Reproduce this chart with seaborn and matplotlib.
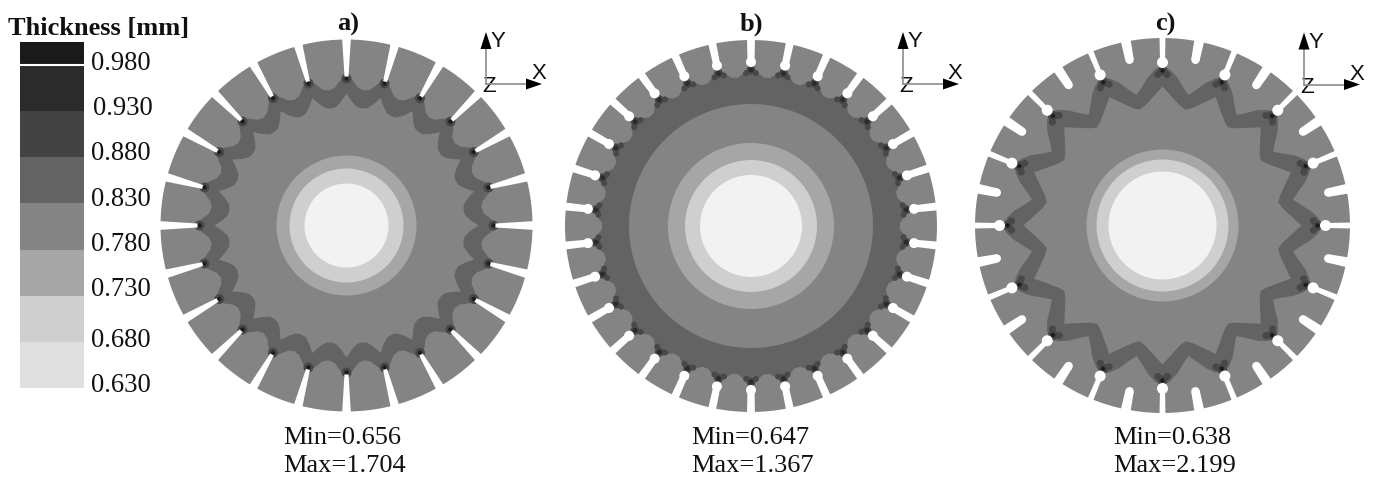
import numpy as np
import matplotlib
matplotlib.use('Agg')
import matplotlib.pyplot as plt
from matplotlib.colors import ListedColormap
import seaborn as sns

W, H = 1377, 481

# legend
legend_title = 'Thickness [mm]'
legend_labels = ['0.980', '0.930', '0.880', '0.830', '0.780', '0.730', '0.680', '0.630']
legend_label_y = [61, 107, 152, 197, 243, 288, 339, 384]
legend_greys = ['#e0e0e0', '#cfcfcf', '#a6a6a6', '#848484', '#636363', '#434343', '#2b2b2b', '#1a1a1a']
# one row per half block, top block is only half height
legend_rows = [7, 6, 6, 5, 5, 4, 4, 3, 3, 2, 2, 1, 1, 0, 0]

panel_names = ['a)', 'b)', 'c)']
panel_min = ['Min=0.656', 'Min=0.647', 'Min=0.638']
panel_max = ['Max=1.704', 'Max=1.367', 'Max=2.199']
text_left = [283, 691, 1113]
center_x = [346.5, 751, 1162.5]
center_y = [226.5, 227, 226.5]
disc_r = [186, 186, 187.5]
white_r = [42, 51, 54]
light_r = [57, 66, 66]
mid_r = [70, 83, 76]
slot_count = [24, 30, 32]

# band radii over one repeating period, from the slot tip round to the next one
band_period = [15, 12, 22.5]
band_outer_a = [151, 145, 138, 136, 138, 145]
band_inner_a = [132, 124, 119, 118, 119, 124]
band_outer_b = [160, 154, 149, 149, 154]
band_inner_b = [122, 122, 122, 122, 122]
band_outer_c = [160, 156, 149, 140, 133, 140, 149, 156]
band_inner_c = [139, 132, 126, 121, 118, 121, 126, 132]

sns.set_theme(style='white')
plt.rcParams['font.family'] = ['Liberation Serif', 'DejaVu Sans']

fig = plt.figure(figsize=(W / 100, H / 100), dpi=100)


def px_axes(x0, y0, x1, y1):
    return fig.add_axes([x0 / W, 1 - y1 / H, (x1 - x0) / W, (y1 - y0) / H])


def ftext(x, y, s, **kw):
    fig.text(x / W, 1 - (y + 2.5) / H, s, va='center', **kw)


def radial_poly(radii, period):
    n = int(round(360 / period))
    r = np.tile(radii, n)
    a = np.radians(90 + np.arange(len(r)) * period / len(radii))
    return r * np.cos(a), r * np.sin(a)


def slot(ax, ang, r0, r1, w0, w1, bulb=0):
    # tapered white slit from the rim r0 in to r1, optional round end
    t = np.radians(ang)
    ux, uy = np.cos(t), np.sin(t)
    px, py = -uy, ux
    xs = [r0 * ux + w0 / 2 * px, r1 * ux + w1 / 2 * px, r1 * ux - w1 / 2 * px, r0 * ux - w0 / 2 * px]
    ys = [r0 * uy + w0 / 2 * py, r1 * uy + w1 / 2 * py, r1 * uy - w1 / 2 * py, r0 * uy - w0 / 2 * py]
    ax.fill(xs, ys, color='white', lw=0, zorder=6)
    if bulb:
        ax.add_patch(plt.Circle((r1 * ux, r1 * uy), bulb, color='white', lw=0, zorder=6))


def spot(ax, ang, r, sizes):
    t = np.radians(ang)
    for s, c in zip(sizes, ['#484848', '#2b2b2b', '#1a1a1a']):
        ax.add_patch(plt.Circle((r * np.cos(t), r * np.sin(t)), s, color=c, lw=0, zorder=5))


def lobes(ax, ang, r, off, size):
    # darker patches either side of a slot tip
    for d in (-off, off):
        t = np.radians(ang + d)
        ax.add_patch(plt.Circle((r * np.cos(t), r * np.sin(t)), size, color='#484848', lw=0, zorder=5))


def triad(ax, ox, oy):
    ax.plot([ox, ox], [oy, oy + 42], color='#8c8c8c', lw=1.2, zorder=7)
    ax.plot([ox, ox + 40], [oy, oy], color='#8c8c8c', lw=1.2, zorder=7)
    ax.fill([ox - 5.5, ox + 5.5, ox], [oy + 35, oy + 35, oy + 52], color='black', lw=0, zorder=8)
    ax.fill([ox + 40, ox + 40, ox + 56], [oy + 5.5, oy - 5.5, oy], color='black', lw=0, zorder=8)
    ax.text(ox + 5, oy + 43, 'Y', family='Liberation Sans', fontsize=16, color='#111111', va='center', ha='left')
    ax.text(ox + 45, oy + 11, 'X', family='Liberation Sans', fontsize=16, color='#111111', va='center', ha='left')
    ax.text(ox + 3, oy - 2, 'Z', family='Liberation Sans', fontsize=16, color='#111111', va='center', ha='center')


# legend colour bar
ax = px_axes(20, 43, 84, 389)
sns.heatmap(np.array(legend_rows).reshape(-1, 1), cmap=ListedColormap(legend_greys), vmin=-0.5, vmax=7.5,
            cbar=False, xticklabels=False, yticklabels=False, ax=ax)
ax.axhline(1, color='white', lw=1.5)
ftext(8, 25.5, legend_title, fontsize=19, fontweight='bold', color='#111111')
for i, (lab, y) in enumerate(zip(legend_labels, legend_label_y)):
    ftext(93 if i == 1 else 91.5, y - 0.5, lab, fontsize=19.2, color='#111111')

bands = [(band_outer_a, band_inner_a), (band_outer_b, band_inner_b), (band_outer_c, band_inner_c)]
triad_pos = [(139.5, 141.5), (152, 142), (141.5, 141)]

for k in range(3):
    cx, cy = center_x[k], center_y[k]
    ax = px_axes(cx - 215, cy - 215, cx + 215, cy + 215)
    ax.patch.set_alpha(0)
    ax.set_xlim(-215, 215)
    ax.set_ylim(-215, 215)
    ax.axis('off')

    ax.add_patch(plt.Circle((0, 0), disc_r[k], color='#848484', lw=0, zorder=1))
    x, y = radial_poly(bands[k][0], band_period[k])
    ax.fill(x, y, color='#636363', lw=0, zorder=2)
    x, y = radial_poly(bands[k][1], band_period[k])
    ax.fill(x, y, color='#848484', lw=0, zorder=3)
    for r, c in zip([mid_r[k], light_r[k], white_r[k]], ['#a6a6a6', '#cfcfcf', '#f2f2f2']):
        ax.add_patch(plt.Circle((0, 0), r, color=c, lw=0, zorder=4))

    step = 360 / slot_count[k]
    for i in range(slot_count[k]):
        ang = 90 + i * step
        if k == 0:
            slot(ax, ang, disc_r[k] + 3, 149, 9, 4)
            spot(ax, ang, 147, [5, 2.5, 1.5])
        elif k == 1:
            slot(ax, ang, disc_r[k] + 3, 164, 8, 7, bulb=5)
            lobes(ax, ang, 153, 1.8, 3)
            spot(ax, ang, 156, [4.5, 2.5])
        elif i % 2 == 0:
            slot(ax, ang, disc_r[k] + 3, 163, 6, 5, bulb=5.5)
            lobes(ax, ang, 151, 1.8, 3.5)
            spot(ax, ang, 155, [5, 2.5, 1.5])
        else:
            slot(ax, ang, disc_r[k] + 3, 169, 10, 8.5, bulb=4.2)

    triad(ax, *triad_pos[k])

    ftext(cx + (1.5 if k == 0 else 0 if k == 1 else 2.5), 22, panel_names[k], fontsize=19, fontweight='bold', ha='center', color='#111111')
    ftext(text_left[k], 436, panel_min[k], fontsize=19, ha='left', color='#111111')
    ftext(text_left[k], 464, panel_max[k], fontsize=19, ha='left', color='#111111')

fig.savefig('out.png', dpi=100)
